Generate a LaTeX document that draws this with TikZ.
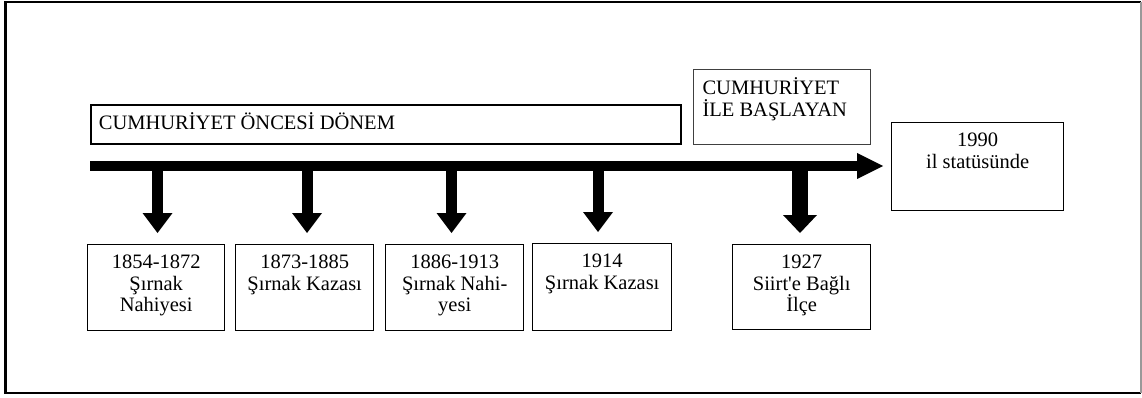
\documentclass[tikz,border=0pt]{standalone}
\usepackage{fontspec}
\setmainfont{Liberation Serif}[Ligatures=TeXOff]
\usetikzlibrary{arrows.meta}
% width, height, first-baseline offset, alignment, text
\newcommand\boxtxt[5]{\parbox[t][#2pt][t]{#1pt}{#4\rule{0pt}{#3pt}#5}}
\tikzset{
  boxnode/.style={draw, line width=1.4pt, inner sep=0pt, anchor=north west},
  mainarrow/.style={line width=9.5pt, -{Triangle[length=26pt,width=26pt,line width=0pt]}, shorten >=8pt},
  downarrow/.style={line width=11pt, -{Triangle[length=20pt,width=30pt,line width=0pt]}, shorten >=11pt},
  bigdownarrow/.style={line width=16pt, -{Triangle[length=18pt,width=34pt,line width=0pt]}, shorten >=11pt},
}
\begin{document}
\begin{tikzpicture}[x=1pt,y=-1pt,font=\fontsize{20.5}{21.5}\selectfont]
\useasboundingbox (0,0) rectangle (1142,398);
% outer frame
\draw[line width=2.5pt] (1141,2) -- (5.5,2) -- (5.5,393) -- (1141,393);
\draw[line width=1.5pt, black!40] (1141,2) -- (1141,393);

% period boxes
\node[boxnode, line width=1.8pt] (pre) at (90,104)
  {\boxtxt{590}{39}{25}{\raggedright\leftskip=8pt}{CUMHURİYET ÖNCESİ DÖNEM}};
\node[boxnode, line width=1.1pt, draw=black!75] (rep) at (693,69)
  {\boxtxt{177}{75}{25}{\raggedright\leftskip=9pt}{CUMHURİYET\\İLE BAŞLAYAN}};
\node[boxnode] (y1990) at (891,122)
  {\boxtxt{172}{88}{24}{\centering}{1990\\il statüsünde}};

% bottom boxes
\node[boxnode] (b1) at (87,244)  {\boxtxt{137}{86}{24}{\centering}{1854-1872\\Şırnak\\Nahiyesi}};
\node[boxnode] (b2) at (235,244) {\boxtxt{138}{86}{24}{\centering}{1873-1885\\Şırnak Kazası}};
\node[boxnode] (b3) at (385,244) {\boxtxt{138}{86}{24}{\centering}{1886-1913\\Şırnak Nahi-\\yesi}};
\node[boxnode] (b4) at (532,243) {\boxtxt{139}{87}{24}{\centering}{1914\\Şırnak Kazası}};
\node[boxnode] (b5) at (732,244) {\boxtxt{138}{85}{24}{\centering}{1927\\Siirt'e Bağlı\\İlçe}};

% main timeline arrow
\coordinate (s) at (90,166);
\draw[mainarrow] (s) -- (s -| y1990.west);

% down arrows
\coordinate (a1) at (157.5,166);
\coordinate (a2) at (307,166);
\coordinate (a3) at (451.5,166);
\coordinate (a4) at (598,166);
\coordinate (a5) at (800,166);
\draw[downarrow] (a1) -- (a1 |- b1.north);
\draw[downarrow] (a2) -- (a2 |- b2.north);
\draw[downarrow] (a3) -- (a3 |- b3.north);
\draw[downarrow] (a4) -- (a4 |- b4.north);
\draw[bigdownarrow] (a5) -- (a5 |- b5.north);
\end{tikzpicture}
\end{document}
